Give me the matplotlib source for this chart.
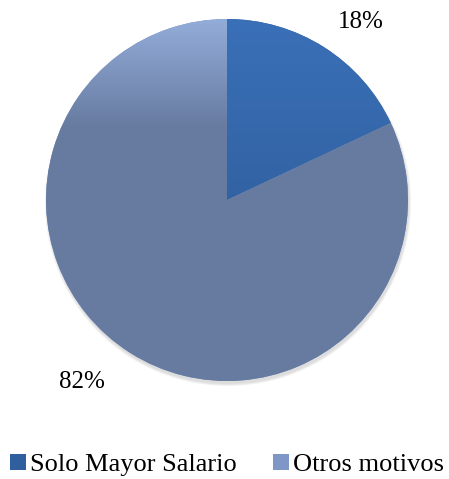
import matplotlib.pyplot as plt
import numpy as np
from matplotlib.colors import LinearSegmentedColormap

labels = ['Solo Mayor Salario', 'Otros motivos']
values = [18, 82]
tops = ['#3a70b8', '#93acd9']
bottoms = ['#2a558f', '#677ba0']
legend_cols = ['#2f5f9f', '#7f97c6']

plt.rcParams['font.family'] = ['Liberation Serif', 'DejaVu Serif']

fig = plt.figure(figsize=(4.49, 4.79), dpi=100)
ax = fig.add_axes([0, 0, 1, 1])

cx, cy, r = 227, 279, 181

# soft shadow under the pie
for i, a in enumerate([0.12, 0.12, 0.12]):
    ax.add_patch(plt.Circle((cx + 1, cy - 3), r + 2 - i, color='#999999',
                            alpha=a, lw=0, zorder=0))

wedges, texts, autotexts = ax.pie(values, startangle=90, counterclock=False,
                                  center=(cx, cy), radius=r, colors=legend_cols,
                                  autopct='%1.0f%%', pctdistance=1.26,
                                  textprops={'fontsize': 18, 'color': 'black'},
                                  wedgeprops={'linewidth': 0}, frame=True)

# label positions as placed in the original
autotexts[0].set_position((361, 479 - 22))
autotexts[1].set_position((82, 479 - 382))

grad = np.linspace(0, 1, 256).reshape(-1, 1)
for w, t, b in zip(wedges, tops, bottoms):
    if w is wedges[1]:
        cm = LinearSegmentedColormap.from_list('g', [(0, t), (0.3, b), (1, b)])
    else:
        cm = LinearSegmentedColormap.from_list('g', [t, b])
    im = ax.imshow(grad, cmap=cm, extent=(cx - r, cx + r, cy - r, cy + r),
                   origin='upper', aspect='auto', zorder=2)
    im.set_clip_path(w)

ax.set_xlim(0, 449)
ax.set_ylim(0, 479)
ax.set_aspect('equal')
ax.axis('off')

fig.legend(wedges, labels, loc='center', bbox_to_anchor=(227 / 449, 1 - 465 / 479),
           ncol=2, frameon=False, fontsize=19, handlelength=0.6,
           handleheight=0.6, handletextpad=0.15, columnspacing=1.4,
           borderpad=0)

fig.savefig('out.png', dpi=100)
